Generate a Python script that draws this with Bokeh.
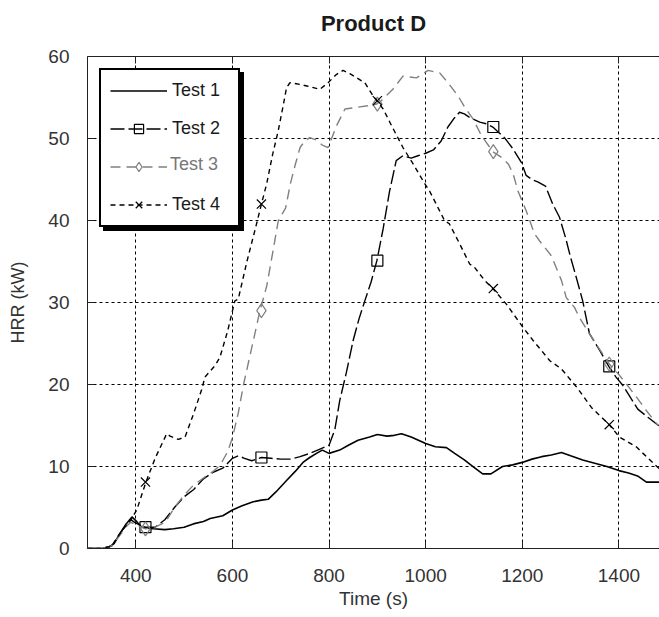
from bokeh.plotting import figure
from bokeh.models import Range1d, FixedTicker, LinearAxis, Legend, LegendItem
from bokeh.embed import file_html
from bokeh.resources import INLINE

# ---------------- data ----------------
x_ticks = [400, 600, 800, 1000, 1200, 1400]
y_ticks = [0, 10, 20, 30, 40, 50, 60]
x_lim = (300, 1484)
y_lim = (0, 60)
title_text = "Product D"

t1_t = [300, 330, 345, 355, 367, 380, 392, 400, 410, 420, 436, 460, 478, 500, 519, 540,
        554, 580, 600, 620, 643, 660, 674, 690, 712, 730, 746, 760, 774, 786, 800, 822,
        840, 860, 884, 900, 920, 935, 950, 970, 1000, 1020, 1043, 1060, 1080, 1100, 1118,
        1135, 1159, 1180, 1200, 1220, 1240, 1260, 1281, 1300, 1325, 1350, 1375, 1400,
        1420, 1440, 1457, 1484]
t1_v = [0, 0, 0.2, 0.6, 1.8, 3.0, 3.85, 3.4, 2.7, 2.5, 2.4, 2.3, 2.4, 2.6, 3.0, 3.3,
        3.65, 4.0, 4.7, 5.2, 5.7, 5.9, 6.0, 6.9, 8.3, 9.4, 10.5, 11.1, 11.6, 12.0, 11.6, 12.0,
        12.6, 13.2, 13.6, 13.9, 13.7, 13.8, 14.0, 13.6, 12.8, 12.4, 12.3, 11.6, 10.8, 9.9, 9.1,
        9.1, 10.0, 10.2, 10.5, 10.9, 11.2, 11.4, 11.7, 11.3, 10.8, 10.4, 10.0, 9.5,
        9.2, 8.8, 8.1, 8.1]

t2_t = [300, 330, 350, 367, 380, 390, 400, 420, 440, 460, 480, 500, 520, 540, 560, 580,
        600, 612, 625, 640, 660, 680, 700, 720, 740, 760, 780, 800, 812, 822, 836, 850,
        862, 874, 887, 899, 912, 925, 939, 953, 970, 984, 1000, 1016, 1032, 1046, 1058,
        1070, 1080, 1090, 1112, 1125, 1139, 1150, 1163, 1180, 1198, 1208, 1220, 1232,
        1248, 1263, 1277, 1290, 1300, 1312, 1325, 1339, 1360, 1379, 1394, 1408, 1425,
        1439, 1460, 1484]
t2_v = [0, 0, 0.3, 1.8, 2.9, 3.5, 3.1, 2.6, 2.6, 3.5, 5.0, 6.3, 7.2, 8.5, 9.3, 9.8,
        11.0, 11.3, 11.0, 10.7, 11.1, 11.0, 10.9, 10.9, 11.2, 11.6, 12.1, 12.6, 14.5, 18.0,
        21.5, 25.4, 28.0, 30.2, 32.5, 35.1, 39.0, 43.5, 47.3, 47.9, 47.6, 47.9, 48.2, 48.6,
        49.7, 51.4, 52.4, 53.2, 53.0, 52.6, 52.0, 51.8, 51.4, 50.8, 50.1, 48.8, 47.1, 45.5,
        45.0, 44.7, 44.2, 42.0, 40.4, 37.8, 35.5, 33.0, 30.2, 26.2, 24.2, 22.2, 20.9, 19.9,
        18.3, 17.0, 16.0, 14.9]

t3_t = [300, 330, 350, 367, 380, 390, 400, 420, 440, 461, 480, 500, 519, 540, 560, 575,
        590, 600, 612, 623, 640, 657, 671, 684, 695, 710, 720, 730, 740, 750, 760, 774,
        786, 798, 815, 833, 857, 880, 899, 908, 920, 932, 953, 981, 1005, 1029, 1046, 1067,
        1081, 1098, 1115, 1139, 1157, 1171, 1181, 1191, 1208, 1225, 1236, 1260, 1281, 1291,
        1308, 1318, 1339, 1352, 1380, 1400, 1415, 1436, 1457, 1481]
t3_v = [0, 0, 0.3, 1.6, 2.7, 3.2, 2.9, 2.4, 2.6, 3.2, 5.0, 6.5, 7.7, 8.6, 9.4, 10.2,
        11.8, 13.5, 16.5, 20.0, 24.5, 29.0, 32.0, 36.3, 40.0, 41.5, 44.5, 46.8, 48.9, 49.7,
        50.1, 49.8, 49.2, 48.9, 51.5, 53.6, 53.8, 54.0, 54.2, 54.6, 55.3, 56.0, 57.6, 57.4,
        58.3, 58.0, 56.8, 55.2, 53.8, 52.4, 50.4, 48.4, 47.7, 46.9, 45.7, 43.6, 41.2, 38.4,
        37.5, 35.7, 32.7, 30.6, 29.4, 28.2, 26.2, 25.0, 22.5, 21.2, 20.1, 18.5, 16.8, 15.0]

t4_t = [300, 330, 350, 367, 380, 390, 402, 421, 440, 464, 471, 488, 502, 520, 537, 543,
        564, 574, 590, 605, 612, 630, 650, 660, 671, 683, 695, 705, 712, 719, 740, 754,
        781, 798, 815, 829, 843, 860, 874, 889, 899, 912, 930, 953, 974, 998, 1008, 1039,
        1049, 1070, 1091, 1101, 1122, 1139, 1167, 1201, 1222, 1257, 1281, 1298, 1315, 1343,
        1357, 1371, 1380, 1401, 1436, 1450, 1484]
t4_v = [0, 0, 0.3, 1.8, 2.8, 3.5, 4.7, 8.1, 11.0, 14.0, 13.7, 13.3, 13.6, 16.5, 19.5, 20.9,
        22.3, 23.3, 26.5, 30.2, 30.4, 35.0, 39.6, 42.0, 44.5, 48.0, 51.0, 54.0, 56.2, 56.8,
        56.6, 56.4, 56.0, 56.8, 57.8, 58.3, 57.9, 57.3, 56.8, 55.4, 54.6, 53.6, 51.5, 48.9,
        46.9, 44.5, 43.6, 40.0, 39.6, 37.2, 34.7, 34.3, 32.7, 31.7, 29.8, 27.0, 25.4, 22.9,
        21.9, 20.7, 19.5, 17.2, 16.4, 15.6, 15.1, 13.6, 12.4, 11.6, 9.7]

marker_t = [420, 660, 900, 1140, 1380]
m2_v = [2.6, 11.1, 35.1, 51.4, 22.2]
m3_v = [2.4, 29.0, 54.2, 48.4, 22.5]
m4_v = [8.1, 42.0, 54.6, 31.7, 15.1]

series_names = ["Test 1", "Test 2", "Test 3", "Test 4"]

# ---------------- figure ----------------
FONT = "Liberation Sans"
p = figure(width=659, height=617, output_backend="svg", toolbar_location=None,
           x_range=Range1d(*x_lim), y_range=Range1d(*y_lim),
           min_border_left=87, min_border_right=0, min_border_top=56, min_border_bottom=69,
           x_axis_label="Time (s)", y_axis_label="HRR (kW)", title=title_text)
p.outline_line_color = None
p.background_fill_color = "white"
p.border_fill_color = "white"

p.title.text_font = FONT
p.title.text_font_size = "22px"
p.title.text_font_style = "bold"
p.title.align = "center"
p.title.text_color = "#1a1a1a"
p.title.standoff = 17
p.title.offset = 4

for ax in (p.xaxis[0], p.yaxis[0]):
    ax.major_tick_in = 7
    ax.major_tick_out = 0
    ax.minor_tick_in = 0
    ax.minor_tick_out = 0
    ax.axis_line_color = "#222222"
    ax.major_tick_line_color = "#222222"
    ax.major_label_text_font = FONT
    ax.major_label_text_font_size = "19px"
    ax.major_label_text_color = "#333333"
    ax.axis_label_text_font = FONT
    ax.axis_label_text_font_size = "19px"
    ax.axis_label_text_font_style = "normal"
    ax.axis_label_text_color = "#333333"

p.yaxis[0].axis_label_text_font_size = "18px"
p.xaxis[0].ticker = FixedTicker(ticks=x_ticks)
p.yaxis[0].ticker = FixedTicker(ticks=y_ticks)
p.xaxis[0].major_label_standoff = 20
p.xaxis[0].axis_label_standoff = 3
p.yaxis[0].major_label_standoff = 18
p.yaxis[0].axis_label_standoff = 17

# top border with inward ticks
top_ax = LinearAxis(ticker=FixedTicker(ticks=x_ticks), major_label_text_font_size="0px",
                    major_label_standoff=0, major_tick_in=7, major_tick_out=0,
                    minor_tick_in=0, minor_tick_out=0, axis_line_color="#222222",
                    major_tick_line_color="#222222", major_label_text_alpha=0)
p.add_layout(top_ax, "above")
# invisible spacer between the top border and the title
spacer_ax = LinearAxis(ticker=FixedTicker(ticks=x_ticks), major_label_text_font_size="0px",
                       major_label_standoff=0, major_tick_in=0, major_tick_out=12,
                       minor_tick_in=0, minor_tick_out=0, axis_line_alpha=0,
                       major_tick_line_alpha=0, major_label_text_alpha=0)
p.add_layout(spacer_ax, "above")

p.xgrid.ticker = FixedTicker(ticks=x_ticks)
p.ygrid.ticker = FixedTicker(ticks=y_ticks[1:-1])
for g in (p.xgrid[0], p.ygrid[0]):
    g.grid_line_color = "black"
    g.grid_line_dash = "3 3"
    g.grid_line_width = 1
    g.grid_line_alpha = 1

GRAY = "#808080"
r1 = p.line(t1_t, t1_v, line_color="black", line_width=1.6)
r2 = p.line(t2_t, t2_v, line_color="black", line_width=1.4, line_dash="14 4")
s2 = p.scatter(marker_t, m2_v, marker="square", size=11, line_color="black",
               fill_alpha=0, line_width=1.2)
r3 = p.line(t3_t, t3_v, line_color=GRAY, line_width=1.4, line_dash="10 6")
s3 = p.scatter(marker_t, m3_v, marker="diamond", size=14, line_color=GRAY,
               fill_alpha=0, line_width=1.2)
r4 = p.line(t4_t, t4_v, line_color="black", line_width=1.4, line_dash="5 4")
s4 = p.scatter(marker_t, m4_v, marker="x", size=13, line_color="black", line_width=1.2)

dummy = p.line(x=[], y=[], line_alpha=0)

common = dict(location="top_left", padding=9, spacing=15, label_height=23,
              glyph_height=23, glyph_width=57, label_standoff=5, label_width=57,
              label_text_font=FONT, label_text_font_size="18px", click_policy="none")

shadow = Legend(items=[LegendItem(label=" ", renderers=[dummy]) for _ in series_names],
                margin=16, background_fill_color="black", background_fill_alpha=1,
                border_line_color="black", border_line_alpha=1, border_line_width=2,
                **common)
main = Legend(items=[LegendItem(label=series_names[0], renderers=[r1]),
                     LegendItem(label=series_names[1], renderers=[r2, s2]),
                     LegendItem(label=" ", renderers=[r3, s3]),
                     LegendItem(label=series_names[3], renderers=[r4, s4])],
              margin=12, background_fill_color="white", background_fill_alpha=1,
              border_line_color="black", border_line_width=2, border_line_alpha=1,
              label_text_color="#1a1a1a", **common)
overlay = Legend(items=[LegendItem(label=" ", renderers=[dummy]),
                        LegendItem(label=" ", renderers=[dummy]),
                        LegendItem(label=series_names[2], renderers=[dummy]),
                        LegendItem(label=" ", renderers=[dummy])],
                 margin=12, background_fill_alpha=0, border_line_alpha=0,
                 label_text_color="#777777", **common)
p.add_layout(shadow)
p.add_layout(main)
p.add_layout(overlay)

open("out.html", "w").write(file_html(p, INLINE))
